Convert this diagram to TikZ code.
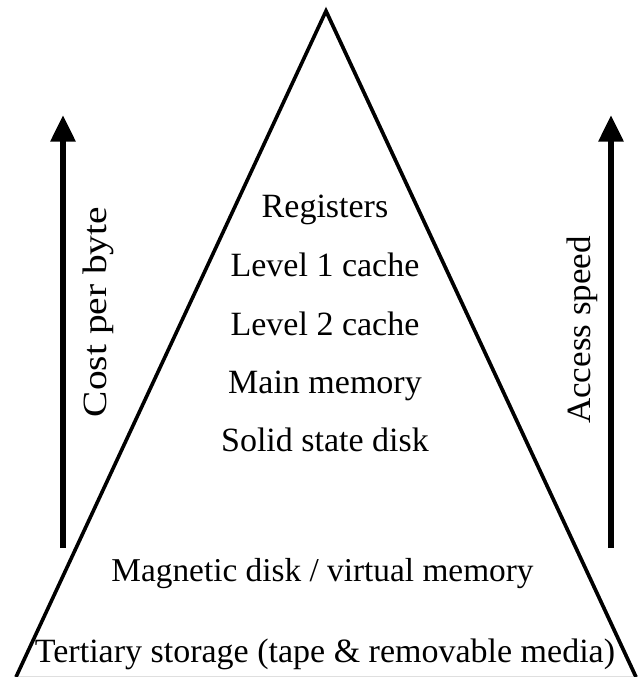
\documentclass[tikz,border=0pt]{standalone}
\usepackage{fontspec}
\setmainfont{Liberation Serif}
\usetikzlibrary{arrows.meta,positioning}

\begin{document}
\begin{tikzpicture}[x=0.75pt,y=-0.75pt,
  lvl/.style={inner sep=0pt,anchor=base,font=\fontsize{25.5}{30}\selectfont},
  axis/.style={inner sep=0pt,rotate=90,font=\fontsize{25.5}{30}\selectfont},
  trend/.style={-{Triangle[width=18pt,length=20pt]},line width=4.5pt},
]
\useasboundingbox (0,0) rectangle (639,677);
% pyramid corners
\coordinate (top) at (326,11);
\coordinate (bl) at (16,677);
\coordinate (br) at (636,677);
\draw[gray!70,line width=2.7pt,line join=miter,xshift=2.5,yshift=-1] (top) -- (br);
\draw[gray!25,line width=1pt] (bl) -- (br);
\draw[line width=2.7pt,line join=miter] (bl) -- (top) -- (br);
% levels
\node[lvl] (reg) at (325,218) {Registers};
\node[lvl] (l1) at (325,276) {Level 1 cache};
\node[lvl] (l2) at (325,335) {Level 2 cache};
\node[lvl] (mm) at (325,393) {Main memory};
\node[lvl] (ssd) at (325,451) {Solid state disk};
\node[lvl,font=\fontsize{25}{30}\selectfont] (mag) at (322.5,581) {Magnetic disk / virtual memory};
\node[lvl] (ter) at (325,662) {Tertiary storage (tape \& removable media)};
% side arrows
\coordinate (cb) at (63,548);
\coordinate (ct) at (63,115);
\coordinate (ab) at (611,548);
\coordinate (at) at (611,115);
\draw[trend] (cb) -- (ct);
\draw[trend] (ab) -- (at);
\node[axis] (cost) at (98,312) {\scalebox{1.16}[1]{Cost per byte}};
\node[axis] (speed) at (582,330) {\scalebox{1.03}[1]{Access speed}};
\end{tikzpicture}
\end{document}
